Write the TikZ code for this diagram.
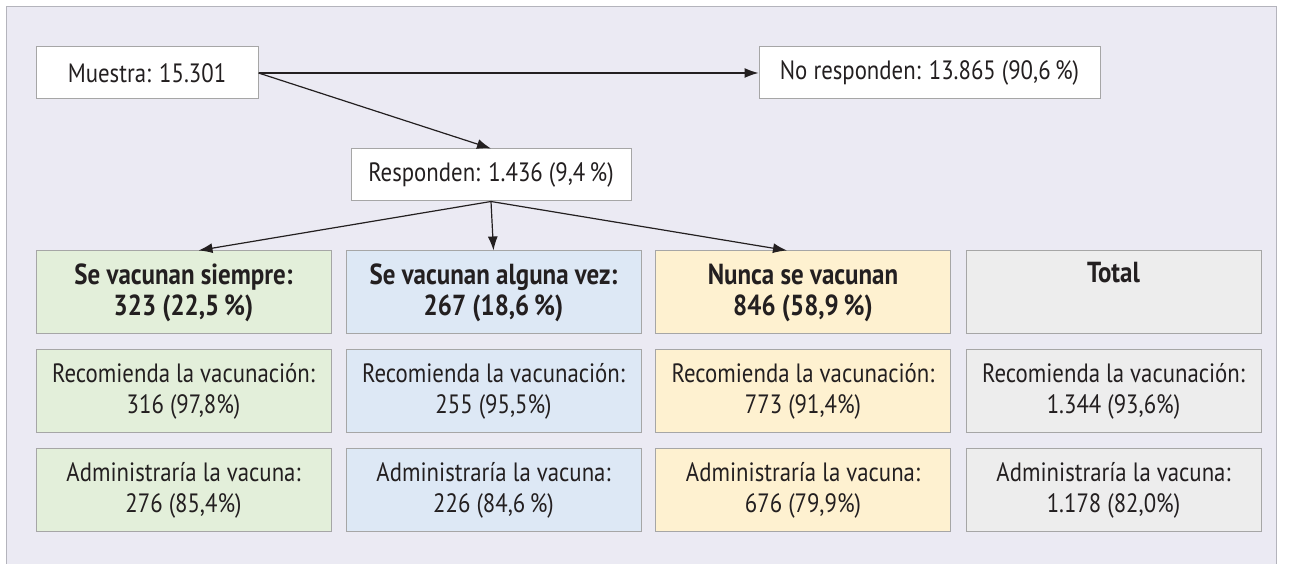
\documentclass[tikz,border=0pt]{standalone}
\usepackage{fontspec}
\setmainfont{PT Sans}[FakeStretch=0.86]
\usepackage{tikz}
\usetikzlibrary{arrows.meta,positioning}
\definecolor{bgcol}{HTML}{EBEAF3}
\definecolor{framecol}{HTML}{B4B4BC}
\definecolor{boxline}{HTML}{A6A6A6}
\definecolor{inkcol}{HTML}{231F20}
\definecolor{siemprecol}{HTML}{E3EFDA}
\definecolor{algunacol}{HTML}{DDE8F5}
\definecolor{nuncacol}{HTML}{FEF1D0}
\definecolor{totalcol}{HTML}{EDEDED}

\begin{document}
\begin{tikzpicture}[x=1pt,y=1pt,
	box/.style={draw=boxline, line width=1pt, fill=white, inner sep=0pt, align=center, text=inkcol,
		font=\fontsize{26.5}{31}\selectfont},
	topbox/.style={box, minimum height=52pt},
	cell/.style={box, minimum width=295pt, minimum height=83pt},
	head/.style={cell, font=\fontsize{29}{31}\selectfont\bfseries},
	flow/.style={draw=inkcol, line width=1.2pt, -{Latex[length=14pt,width=10pt]}}]
	\useasboundingbox (0,0) rectangle (1291,564);
	\draw[framecol, fill=bgcol, line width=1pt] (6,-5) rectangle (1276,557);
	\node[topbox, minimum width=222pt] (muestra) at (147,491) {Muestra: 15.301};
	\node[topbox, minimum width=341pt] (nores) at (929.5,491) {No responden: 13.865 (90,6\,\%)};
	\node[topbox, minimum width=280pt] (resp) at (491,389) {Responden: 1.436 (9,4\,\%)};
	\node[head, fill=siemprecol] (siempre) at (183.5,271.5) {Se vacunan siempre:\\323 (22,5\,\%)};
	\node[head, fill=algunacol] (alguna) at (493.5,271.5) {Se vacunan alguna vez:\\267 (18,6\,\%)};
	\node[head, fill=nuncacol] (nunca) at (803,271.5) {Nunca se vacunan\\846 (58,9\,\%)};
	\node[head, fill=totalcol] (total) at (1113.5,271.5) {Total\\\strut};
	\node[cell, fill=siemprecol, below=15pt of siempre] (recsiempre) {Recomienda la vacunación:\\316 (97,8\%)};
	\node[cell, fill=algunacol, below=15pt of alguna] (recalguna) {Recomienda la vacunación:\\255 (95,5\%)};
	\node[cell, fill=nuncacol, below=15pt of nunca] (recnunca) {Recomienda la vacunación:\\773 (91,4\%)};
	\node[cell, fill=totalcol, below=15pt of total] (rectotal) {Recomienda la vacunación:\\1.344 (93,6\%)};
	\node[cell, fill=siemprecol, below=15pt of recsiempre] (admsiempre) {Administraría la vacuna:\\276 (85,4\%)};
	\node[cell, fill=algunacol, below=15pt of recalguna] (admalguna) {Administraría la vacuna:\\226 (84,6\,\%)};
	\node[cell, fill=nuncacol, below=15pt of recnunca] (admnunca) {Administraría la vacuna:\\676 (79,9\%)};
	\node[cell, fill=totalcol, below=15pt of rectotal] (admtotal) {Administraría la vacuna:\\1.178 (82,0\%)};
	\draw[flow] (muestra.east) -- (nores.west);
	\draw[flow] (muestra.east) -- (resp.north);
	\draw[flow] (resp.south) -- ([xshift=15pt]siempre.north);
	\draw[flow] (resp.south) -- (alguna.north);
	\draw[flow] (resp.south) -- ([xshift=-16pt]nunca.north);
\end{tikzpicture}
\end{document}
